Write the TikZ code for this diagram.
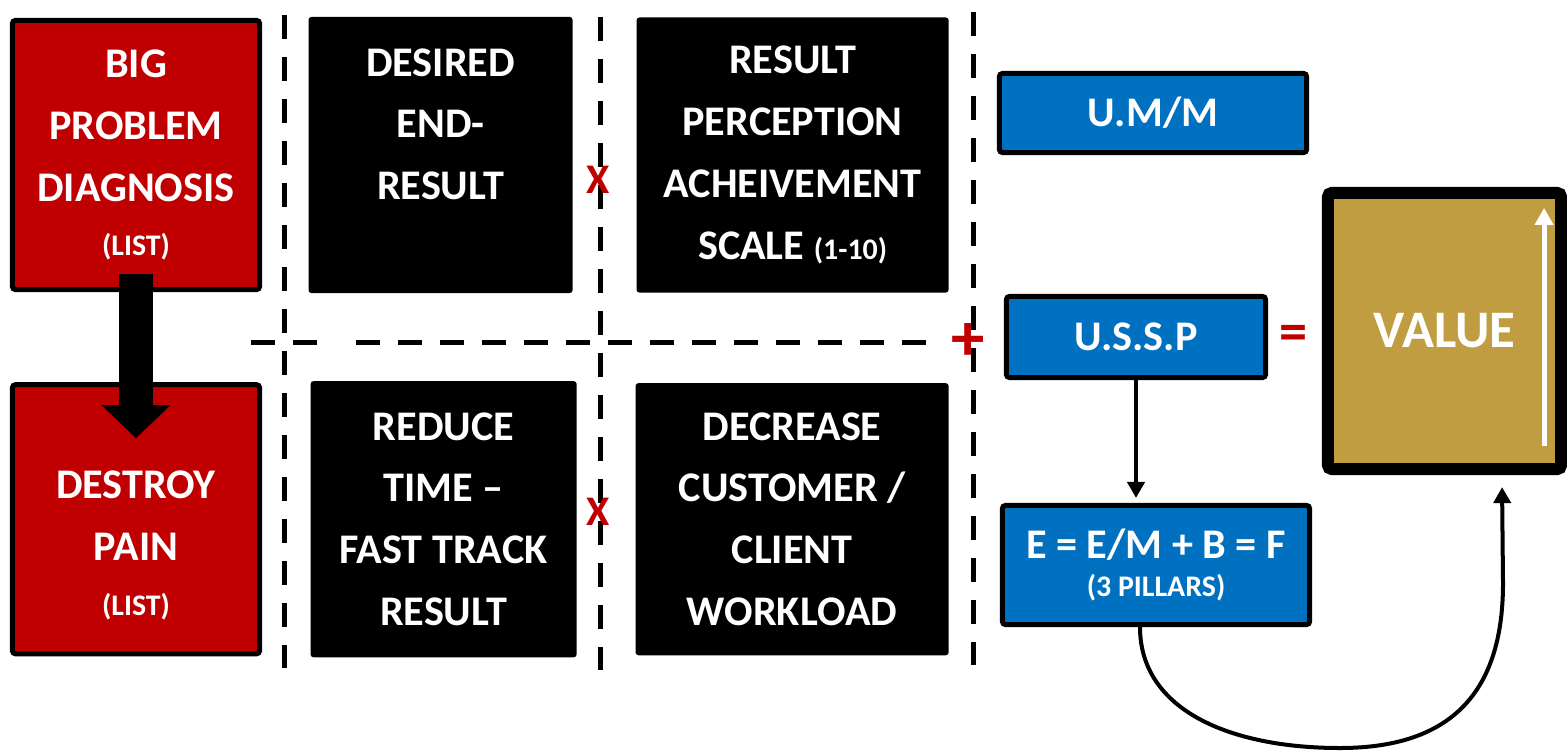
\documentclass[tikz,border=0pt]{standalone}
\usepackage{fontspec}
\setmainfont{Carlito}
\usepackage{xcolor}
\usetikzlibrary{arrows.meta,positioning}

\definecolor{boxred}{HTML}{C00000}
\definecolor{boxblue}{HTML}{0070C0}
\definecolor{boxgold}{HTML}{BF9D40}
\newcommand{\piccolo}[1]{{\fontsize{8.5}{10}\selectfont #1}}

\begin{document}
\begin{tikzpicture}[x=0.01cm, y=-0.01cm, thick]
    % Stili
    \tikzstyle{txt}=[text=white, font=\bfseries\fontsize{12}{17.6}\selectfont, align=center, inner sep=0pt]
    \tikzstyle{redbox}=[rectangle, rounded corners=0.03cm, draw=black, line width=0.05cm, fill=boxred, minimum width=2.47cm, minimum height=2.69cm, txt]
    \tikzstyle{blackbox}=[rectangle, rounded corners=0.03cm, fill=black, txt]
    \tikzstyle{bluebox}=[rectangle, rounded corners=0.03cm, draw=black, line width=0.05cm, fill=boxblue, txt]
    \tikzstyle{valuebox}=[rectangle, rounded corners=0.04cm, draw=black, line width=0.12cm, fill=boxgold, minimum width=2.33cm, minimum height=2.76cm, txt, font=\bfseries\fontsize{15}{18}\selectfont]
    \tikzstyle{opsign}=[text=boxred, font=\bfseries\fontsize{12}{14}\selectfont, inner sep=0pt]
    \tikzstyle{divider}=[line width=0.05cm, dash pattern=on 0.24cm off 0.18cm]
    \tikzstyle{bigarrow}=[line width=0.33cm, -{Triangle[width=0.67cm, length=0.33cm]}]
    \tikzstyle{arrow}=[line width=0.04cm, -{Triangle[width=0.17cm, length=0.16cm]}]
    \tikzstyle{whitearrow}=[white, line width=0.05cm, -{Triangle[width=0.18cm, length=0.17cm]}]

    \useasboundingbox (0,0) rectangle (1567,751);

    % Linee tratteggiate
    \draw[divider] (284,15) -- (284,668);
    \draw[divider] (600,17) -- (600,670);
    \draw[divider] (973,12) -- (973,665);
    \draw[divider] (251,342) -- (317,342);
    \draw[divider] (356,342) -- (930,342);

    % Colonna rossa
    \node (diag) [redbox] at (136,155) {BIG\\PROBLEM\\DIAGNOSIS\\[-2pt]\piccolo{(LIST)}};
    \node (pain) [redbox, below=0.9cm of diag] {};
    \node (painlabel) [txt] at ([yshift=-0.26cm]pain.center) {DESTROY\\PAIN\\[-2pt]\piccolo{(LIST)}};

    % Riquadri neri
    \node (desired) [blackbox, minimum width=2.64cm, minimum height=2.76cm, right=0.45cm of diag] {DESIRED\\END-\\RESULT\\\mbox{}};
    \node (perception) [blackbox, minimum width=3.12cm, minimum height=2.75cm, right=0.61cm of desired] {RESULT\\PERCEPTION\\ACHEIVEMENT\\SCALE \piccolo{(1-10)}};
    \node (reduce) [blackbox, minimum width=2.66cm, minimum height=2.76cm, right=0.47cm of pain] {REDUCE\\TIME –\\FAST TRACK\\RESULT};
    \node (decrease) [blackbox, minimum width=3.13cm, minimum height=2.72cm, right=0.56cm of reduce] {DECREASE\\CUSTOMER /\\CLIENT\\WORKLOAD};

    % Segni
    \node (times1) [opsign] at (598,180) {X};
    \node (times2) [opsign] at (598,512) {X};
    \node (plus) [opsign, font=\bfseries\fontsize{19}{21}\selectfont] at (968,342) {+};
    \node (equals) [opsign, font=\bfseries\fontsize{16}{18}\selectfont] at (1293,338) {=};

    % Riquadri blu e valore
    \node (umm) [bluebox, minimum width=3.07cm, minimum height=0.79cm] at (1153,113) {U.M/M};
    \node (ussp) [bluebox, minimum width=2.59cm, minimum height=0.81cm] at (1136,337) {U.S.S.P};
    \node (pillars) [bluebox, minimum width=3.07cm, minimum height=1.19cm] at (1156,565) {E = E/M + B = F\\[-7pt]\piccolo{(3 PILLARS)}};
    \node (value) [valuebox] at (1444.5,331) {VALUE};

    % Punti della curva
    \coordinate (curvebottom) at (1340,748);
    \coordinate (curveright) at (1503,583);

    % Collegamenti
    \draw [bigarrow] ([yshift=0.18cm]diag.south) -- ([yshift=-0.56cm]pain.north);
    \draw [arrow, shorten >=0.05cm] (ussp.south) -- (ussp.south |- pillars.north);
    \draw [arrow] ([xshift=-0.16cm]pillars.south) .. controls +(0,83) and +(-110,0) .. (curvebottom) .. controls +(120,0) and +(0,100) .. (curveright) -- ([xshift=0.575cm,yshift=-0.12cm]value.south);
    \draw [whitearrow] ([xshift=0.995cm,yshift=0.29cm]value.south) -- ([xshift=0.995cm,yshift=-0.21cm]value.north);

\end{tikzpicture}
\end{document}
